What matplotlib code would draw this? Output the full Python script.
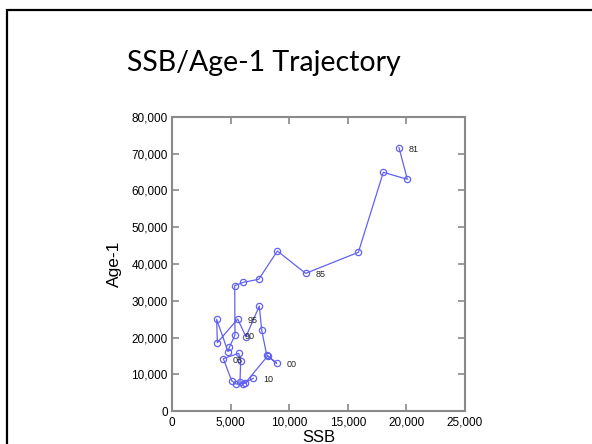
import numpy as np
import matplotlib
matplotlib.use("Agg")
import matplotlib.pyplot as plt
from matplotlib.patches import Rectangle

# SSB / Age-1 pairs by year (1981 .. 2010)
years = list(range(1981, 2011))
ssb = [19370, 20080, 18030, 15900, 11400, 8990, 7400, 6090, 5350,
       5375, 4890, 4780, 3810, 3870, 5600, 6310, 7450, 7650, 8080,
       8930, 8160, 6230, 5460, 5090, 4380, 5690, 5860, 5800, 6030, 6940]
age1 = [71650, 63050, 64950, 43180, 37450, 43540, 35830, 35020, 34100,
        20680, 17330, 16140, 24950, 18590, 25030, 20220, 28570, 22040, 15240,
        12980, 14970, 7530, 7350, 8250, 14240, 15700, 13520, 7970, 7350, 8900]
labelled = {1981: "81", 1985: "85", 1990: "90", 1995: "95",
            2000: "00", 2005: "05", 2010: "10"}

xticks = [0, 5000, 10000, 15000, 20000, 25000]
yticks = [0, 10000, 20000, 30000, 40000, 50000, 60000, 70000, 80000]

col = "#6262f0"
axcol = "#8a8a8a"
tickfont = ["Liberation Sans Narrow", "Liberation Sans"]

fig = plt.figure(figsize=(5.92, 4.44), dpi=100)

# slide frame
fig.patches.append(Rectangle((7 / 592, -0.1), 1.2, (444 - 10) / 444 + 0.1,
                             transform=fig.transFigure, fill=False,
                             edgecolor="black", linewidth=1.6))

fig.text(264 / 592, 1 - 63 / 444, "SSB/Age-1 Trajectory", ha="center",
         va="center", fontsize=20.5, family=["Lato", "DejaVu Sans"])

ax = fig.add_axes([172 / 592, 1 - 411 / 444, 293 / 592, 294 / 444])
ax.plot(ssb, age1, color=col, linewidth=0.9, marker="o", markersize=4.5,
        markerfacecolor="none", markeredgecolor=col, markeredgewidth=0.9)

for yr, x, y in zip(years, ssb, age1):
    if yr in labelled:
        ax.annotate(labelled[yr], (x, y), xytext=(7, -1),
                    textcoords="offset points", va="center", ha="left",
                    fontsize=6.5, color="#222222", family=tickfont)

ax.set_xlim(0, 25000)
ax.set_ylim(0, 80000)
ax.set_xticks(xticks)
ax.set_yticks(yticks)
ax.set_xticklabels([f"{v:,}" for v in xticks], family=tickfont, fontsize=8.5)
ax.set_yticklabels([f"{v:,}" for v in yticks], family=tickfont, fontsize=8.5)
ax.tick_params(direction="in", length=5, width=1.2, color=axcol,
               top=True, right=True, labeltop=False, labelright=False)
ax.tick_params(axis="x", pad=4)
ax.tick_params(axis="y", pad=3)
for sp in ax.spines.values():
    sp.set_color(axcol)
    sp.set_linewidth(1.5)

ax.set_xlabel("SSB", fontsize=12, family=tickfont)
ax.set_ylabel("Age-1", fontsize=12.5, family=tickfont)
ax.xaxis.set_label_coords(0.5, -0.066)
ax.yaxis.set_label_coords(-0.17, 0.5)

fig.savefig("out.png", dpi=100)
